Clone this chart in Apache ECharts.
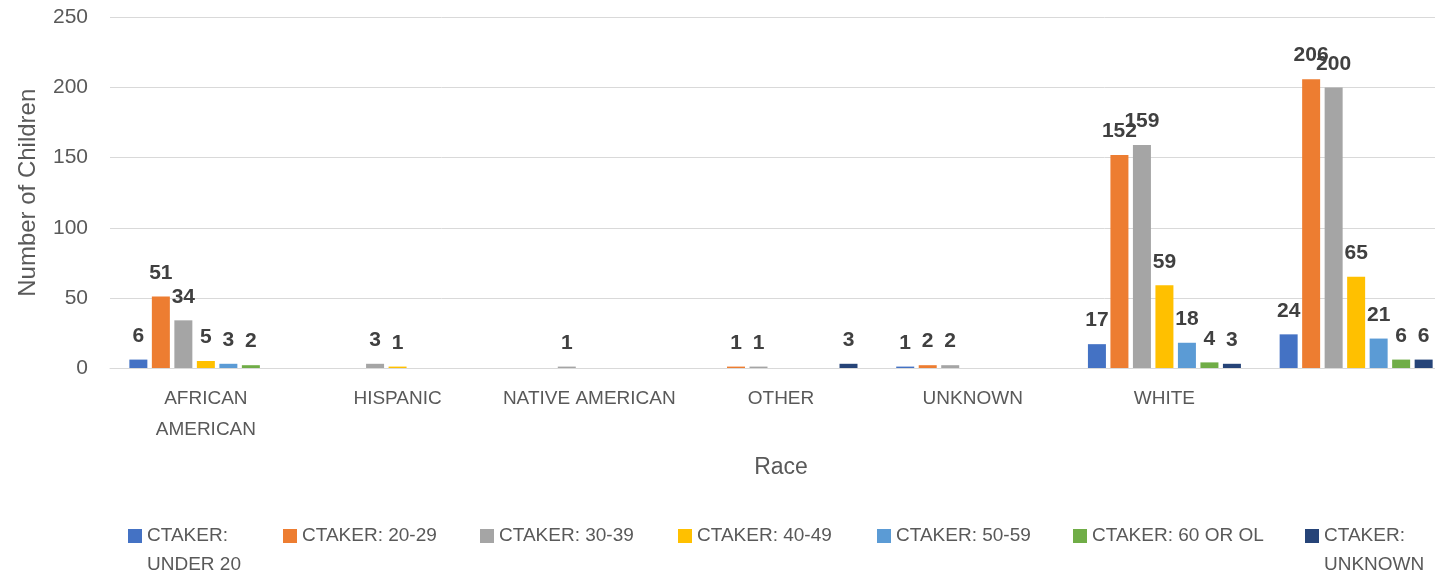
<!DOCTYPE html>
<html>
<head>
<meta charset="utf-8">
<script src="https://cdn.jsdelivr.net/npm/echarts@6/dist/echarts.min.js"></script>
<style>
  html, body { margin: 0; padding: 0; background: #fff; }
  #chart { width: 1435px; height: 574px; }
</style>
</head>
<body>
<div id="chart"></div>
<script>
// categories (last one has no label in the source)
const races = ["AFRICAN\nAMERICAN", "HISPANIC", "NATIVE AMERICAN", "OTHER", "UNKNOWN", "WHITE", ""];

const seriesNames = [
  "CTAKER: UNDER 20",
  "CTAKER: 20-29",
  "CTAKER: 30-39",
  "CTAKER: 40-49",
  "CTAKER: 50-59",
  "CTAKER: 60 OR OL",
  "CTAKER: UNKNOWN"
];

// values per caretaker age group, one per race
const under20 = [6, 0, 0, 0, 1, 17, 24];
const age20s = [51, 0, 0, 1, 2, 152, 206];
const age30s = [34, 3, 1, 1, 2, 159, 200];
const age40s = [5, 1, 0, 0, 0, 59, 65];
const age50s = [3, 0, 0, 0, 0, 18, 21];
const age60plus = [2, 0, 0, 0, 0, 4, 6];
const ageUnknown = [0, 0, 0, 3, 0, 3, 6];

const yTicks = { min: 0, max: 250, interval: 50 };

const colors = ["#4472C4", "#ED7D31", "#A5A5A5", "#FFC000", "#5B9BD5", "#70AD47", "#264478"];
const FONT = "Liberation Sans";
const TXT = "#595959";

const allValues = [under20, age20s, age30s, age40s, age50s, age60plus, ageUnknown];

// legend x positions (one legend per item so the two wrapped ones line up like the original)
const legendLeft = [128, 283, 480, 678, 877, 1073, 1305];
const wrapped = [true, false, false, false, false, false, true];

const chart = echarts.init(document.getElementById("chart"));

const legends = seriesNames.map((name, i) => ({
  data: [name],
  left: legendLeft[i],
  top: wrapped[i] ? 492.5 : 521.5,
  padding: 0,
  itemWidth: 14,
  itemHeight: 14,
  icon: "rect",
  selectedMode: false,
  // leading empty line keeps the marker level with the first text line
  formatter: (n) => (wrapped[i] ? "\n" + n.replace(": ", ":\n") : n),
  textStyle: {
    fontFamily: FONT,
    fontSize: 19,
    color: TXT,
    lineHeight: 29
  }
}));

const series = seriesNames.map((name, i) => ({
  name: name,
  type: "bar",
  data: allValues[i],
  barWidth: 18,
  barGap: "25%",
  itemStyle: { color: colors[i] },
  label: {
    show: true,
    position: "top",
    distance: 13,
    fontFamily: FONT,
    fontSize: 21,
    fontWeight: "bold",
    color: "#404040",
    formatter: (p) => (p.value > 0 ? p.value : "")
  }
}));

const option = {
  animation: false,
  backgroundColor: "#fff",
  color: colors,
  legend: legends,
  grid: { left: 110, top: 17.5, width: 1342, bottom: 206, outerBoundsMode: "none" },
  xAxis: {
    type: "category",
    data: races,
    name: "Race",
    nameLocation: "middle",
    nameGap: 88,
    nameTextStyle: { fontFamily: FONT, fontSize: 23, color: TXT },
    axisLine: { show: true, lineStyle: { color: "#d9d9d9", width: 1 } },
    axisTick: { show: false },
    axisLabel: {
      interval: 0,
      margin: 15,
      fontFamily: FONT,
      fontSize: 19,
      lineHeight: 31,
      color: TXT
    }
  },
  yAxis: {
    type: "value",
    min: yTicks.min,
    max: yTicks.max,
    interval: yTicks.interval,
    name: "Number of Children",
    nameLocation: "middle",
    nameGap: 70,
    nameTextStyle: { fontFamily: FONT, fontSize: 24, color: TXT },
    axisLine: { show: false },
    axisTick: { show: false },
    axisLabel: { margin: 22, fontFamily: FONT, fontSize: 21, color: TXT },
    splitLine: { lineStyle: { color: "#d9d9d9", width: 1 } }
  },
  series: series
};

chart.setOption(option);
</script>
</body>
</html>
